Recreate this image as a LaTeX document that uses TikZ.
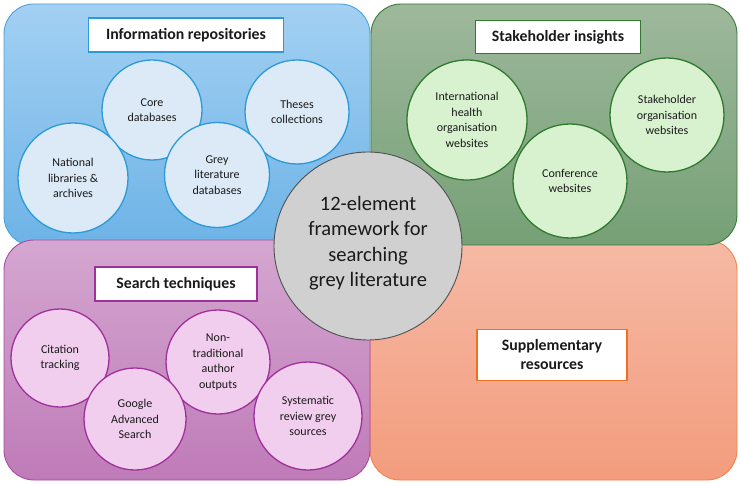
\documentclass[tikz,border=0pt]{standalone}
\usepackage{fontspec}
\setmainfont{Carlito}
\definecolor{bluetop}{HTML}{A3D0F3}
\definecolor{bluebot}{HTML}{6DB3E6}
\definecolor{blueline}{HTML}{4AA3DC}
\definecolor{bluecirc}{HTML}{DCEAF7}
\definecolor{bluecircline}{HTML}{2C9AD6}
\definecolor{greentop}{HTML}{9EB89C}
\definecolor{greenbot}{HTML}{76A076}
\definecolor{greenline}{HTML}{3A7A3A}
\definecolor{greencirc}{HTML}{D8F2D0}
\definecolor{greencircline}{HTML}{2F7A2F}
\definecolor{purptop}{HTML}{D4A7D0}
\definecolor{purpbot}{HTML}{BF7BB8}
\definecolor{purpline}{HTML}{A94AA3}
\definecolor{purpcirc}{HTML}{F1CDEE}
\definecolor{purpcircline}{HTML}{A0309A}
\definecolor{orantop}{HTML}{F5BAA5}
\definecolor{oranbot}{HTML}{F39C7D}
\definecolor{oranline}{HTML}{F2824F}
\definecolor{orantitle}{HTML}{F07020}
\definecolor{centfill}{HTML}{D0D0D0}
\definecolor{centline}{HTML}{505050}
\definecolor{txt}{HTML}{1A1A1A}
\begin{document}
\begin{tikzpicture}[x=1pt,y=-1pt,
  panel/.style={rectangle, rounded corners=30pt, line width=0.9pt, inner sep=0pt},
  titlebox/.style={rectangle, fill=white, line width=1.3pt, inner sep=0pt, align=center,
    font=\fontsize{15.8}{19}\selectfont\bfseries, text=txt},
  item/.style={circle, inner sep=0pt, line width=1.3pt, align=center,
    font=\fontsize{12}{15.5}\selectfont, text=txt},
  blueitem/.style={item, fill=bluecirc, draw=bluecircline},
  greenitem/.style={item, fill=greencirc, draw=greencircline},
  purpitem/.style={item, fill=purpcirc, draw=purpcircline}]
\useasboundingbox (0,0) rectangle (741,486);
% panels
\node[panel, top color=bluetop, bottom color=bluebot, draw=blueline,
  minimum width=366pt, minimum height=242pt] (pblue) at (187,125) {};
\node[panel, top color=orantop, bottom color=oranbot, draw=oranline,
  minimum width=367pt, minimum height=240pt] (poran) at (553.5,360) {};
\node[panel, top color=greentop, bottom color=greenbot, draw=greenline,
  minimum width=366pt, minimum height=241pt] (pgreen) at (554,124.5) {};
\node[panel, top color=purptop, bottom color=purpbot, draw=purpline,
  minimum width=366pt, minimum height=240pt] (ppurp) at (187,360) {};
% titles
\node[titlebox, draw=bluecircline, minimum width=195pt, minimum height=34pt] (tblue) at (186,35) {Information repositories};
\node[titlebox, draw=greencircline, minimum width=165pt, minimum height=33pt] (tgreen) at (558,37) {Stakeholder insights};
\node[titlebox, draw=purpcircline, minimum width=162pt, minimum height=34pt] (tpurp) at (176,284) {Search techniques};
\node[titlebox, draw=orantitle, minimum width=150pt, minimum height=51pt] (toran) at (552,355) {Supplementary\\resources};
% blue items
\node[blueitem, minimum size=100pt] (core) at (152,110) {Core\\databases};
\node[blueitem, minimum size=104pt] (theses) at (297,112) {Theses\\collections};
\node[blueitem, minimum size=110pt] (natl) at (73,178) {National\\libraries \&\\archives};
\node[blueitem, minimum size=105pt] (greydb) at (217,175) {Grey\\literature\\databases};
% green items
\node[greenitem, minimum size=120pt] (intl) at (467,120) {International\\health\\organisation\\websites};
\node[greenitem, minimum size=114pt] (conf) at (570,181) {Conference\\websites};
\node[greenitem, minimum size=114pt] (stake) at (667,115) {Stakeholder\\organisation\\websites};
% purple items
\node[purpitem, minimum size=98pt] (cite) at (60,358) {Citation\\tracking};
\node[purpitem, minimum size=104pt] (nontrad) at (218,362) {Non-\\traditional\\author\\outputs};
\node[purpitem, minimum size=102pt] (google) at (135,419) {Google\\Advanced\\Search};
\node[purpitem, minimum size=108pt] (sysrev) at (308,416) {Systematic\\review grey\\sources};
% centre
\node[circle, fill=centfill, draw=centline, line width=0.9pt, minimum size=188pt, inner sep=0pt,
  align=center, font=\fontsize{20.5}{25.5}\selectfont, text=txt] (centre) at (368,246) {};
\node[align=center, font=\fontsize{20.5}{25.5}\selectfont, text=txt, inner sep=0pt] (centretext)
  at (368,243) {12-element\\framework for\\searching\\grey literature};
\end{tikzpicture}
\end{document}
